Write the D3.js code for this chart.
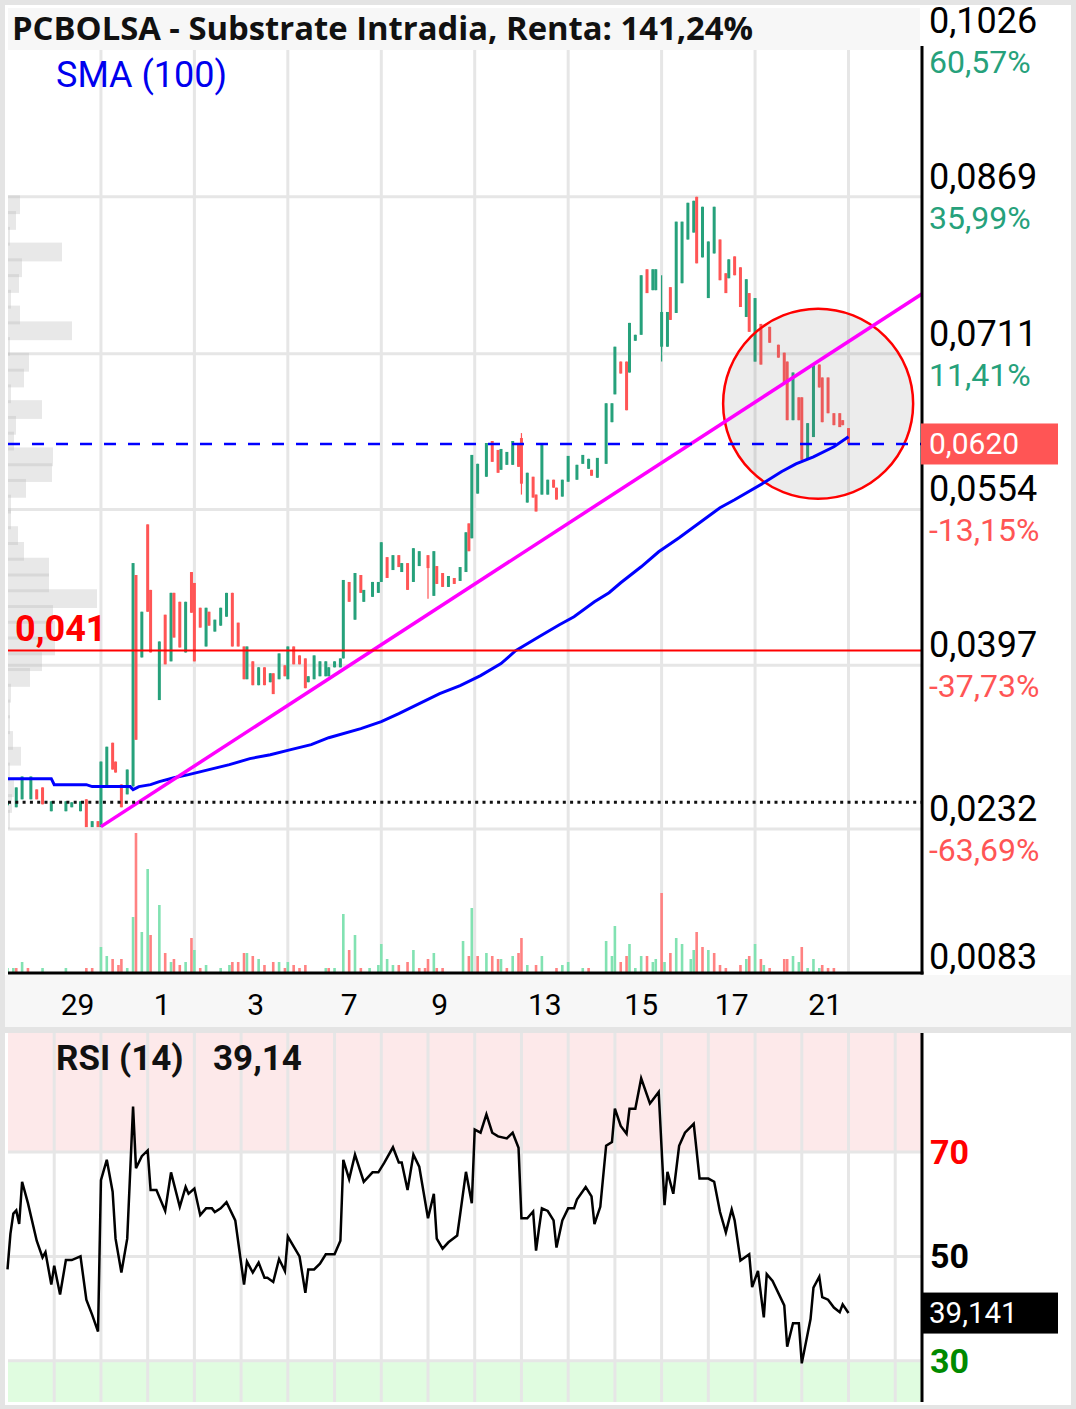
<!DOCTYPE html>
<html>
<head>
<meta charset="utf-8">
<script src="https://cdn.jsdelivr.net/npm/d3@7"></script>
<style>
  body { margin: 0; background: #fff; }
  svg { display: block; font-family: Roboto, 'Noto Sans', sans-serif; }
</style>
</head>
<body>
<script>
var WIDTH = 1076,
    HEIGHT = 1409;

// candles: [slot, open, high, low, close]
var candles = [
  [0, .0256, .0260, .0256, .0260], [3, .0254, .0274, .0254, .0274], [5, .0262, .0285, .0262, .0285],
  [8, .0262, .0285, .0262, .0285], [10, .0272, .0272, .0262, .0262], [12, .0274, .0274, .0257, .0257],
  [15, .0250, .0260, .0250, .0260], [20, .0250, .0260, .0250, .0260], [22, .0254, .0259, .0254, .0259],
  [25, .0250, .0260, .0250, .0260], [27, .0262, .0262, .0234, .0234], [29, .0234, .0240, .0234, .0240],
  [31, .0240, .0240, .0234, .0234], [32, .0234, .0300, .0234, .0300], [34, .0275, .0315, .0275, .0315],
  [36, .0319, .0319, .0292, .0292], [37, .0300, .0300, .0289, .0289], [39, .0277, .0277, .0254, .0254],
  [41, .0267, .0292, .0267, .0292], [43, .0275, .0500, .0275, .0500], [44, .0488, .0488, .0322, .0322],
  [46, .0405, .0451, .0405, .0451], [48, .0539, .0539, .0451, .0451], [49, .0473, .0473, .0410, .0410],
  [52, .0362, .0421, .0362, .0421], [54, .0448, .0448, .0398, .0398], [56, .0401, .0470, .0401, .0470],
  [57, .0470, .0470, .0425, .0425], [59, .0461, .0461, .0415, .0415], [61, .0410, .0461, .0410, .0461],
  [63, .0491, .0491, .0450, .0450], [64, .0480, .0480, .0401, .0401], [66, .0455, .0455, .0435, .0435],
  [68, .0416, .0455, .0416, .0455], [69, .0451, .0451, .0437, .0437], [71, .0431, .0443, .0431, .0443],
  [73, .0437, .0455, .0437, .0455], [75, .0446, .0470, .0446, .0470], [77, .0470, .0470, .0416, .0416],
  [79, .0440, .0440, .0416, .0416], [81, .0416, .0416, .0383, .0383], [82, .0383, .0416, .0383, .0416],
  [84, .0401, .0401, .0377, .0377], [86, .0377, .0395, .0377, .0395], [88, .0395, .0395, .0377, .0377],
  [90, .0380, .0389, .0380, .0389], [91, .0389, .0389, .0368, .0368], [93, .0383, .0409, .0383, .0409],
  [95, .0397, .0397, .0386, .0386], [96, .0383, .0416, .0383, .0416], [98, .0416, .0416, .0398, .0398],
  [100, .0407, .0407, .0398, .0398], [102, .0404, .0404, .0374, .0374], [103, .0380, .0386, .0380, .0386],
  [105, .0383, .0407, .0383, .0407], [107, .0386, .0401, .0386, .0401], [109, .0386, .0401, .0386, .0401],
  [110, .0386, .0395, .0386, .0395], [112, .0395, .0401, .0395, .0401], [114, .0395, .0404, .0395, .0404],
  [115, .0404, .0483, .0404, .0483], [117, .0481, .0481, .0461, .0461], [119, .0443, .0490, .0443, .0490],
  [121, .0488, .0488, .0470, .0470], [122, .0461, .0473, .0461, .0473], [125, .0466, .0481, .0466, .0481],
  [127, .0470, .0481, .0470, .0481], [128, .0481, .0521, .0481, .0521], [130, .0506, .0506, .0485, .0485],
  [132, .0493, .0508, .0493, .0508], [134, .0508, .0508, .0496, .0496], [135, .0491, .0500, .0491, .0500],
  [137, .0500, .0500, .0473, .0473], [139, .0481, .0515, .0481, .0515], [141, .0497, .0512, .0497, .0512],
  [144, .0508, .0508, .0464, .0495], [146, .0467, .0512, .0467, .0512], [147, .0497, .0497, .0479, .0479],
  [149, .0490, .0490, .0476, .0476], [151, .0476, .0487, .0476, .0487], [153, .0485, .0485, .0479, .0479],
  [155, .0482, .0496, .0482, .0496], [157, .0491, .0531, .0491, .0531], [158, .0540, .0540, .0512, .0512],
  [159, .0525, .0609, .0525, .0609], [161, .0570, .0600, .0570, .0600], [164, .0587, .0621, .0587, .0621],
  [166, .0623, .0623, .0602, .0602], [168, .0614, .0614, .0591, .0591], [169, .0594, .0615, .0594, .0615],
  [171, .0599, .0612, .0599, .0612], [173, .0599, .0623, .0599, .0623], [175, .0621, .0621, .0597, .0597],
  [176, .0626, .0631, .0569, .0580], [178, .0561, .0591, .0561, .0591], [180, .0587, .0587, .0566, .0566],
  [181, .0569, .0569, .0552, .0552], [183, .0569, .0621, .0569, .0621], [185, .0569, .0584, .0569, .0584],
  [187, .0584, .0584, .0576, .0576], [188, .0576, .0576, .0564, .0564], [190, .0567, .0584, .0567, .0584],
  [192, .0582, .0608, .0582, .0608], [195, .0584, .0599, .0584, .0599], [197, .0600, .0609, .0600, .0609],
  [199, .0595, .0605, .0595, .0605], [200, .0594, .0594, .0588, .0588], [202, .0586, .0606, .0586, .0606],
  [205, .0600, .0661, .0600, .0661], [207, .0642, .0661, .0642, .0661], [208, .0670, .0718, .0670, .0718],
  [210, .0703, .0703, .0691, .0691], [212, .0703, .0703, .0654, .0654], [213, .0692, .0742, .0692, .0742],
  [215, .0724, .0730, .0724, .0730], [217, .0730, .0790, .0730, .0790], [219, .0796, .0796, .0772, .0772],
  [221, .0775, .0796, .0775, .0796], [222, .0775, .0796, .0775, .0796], [224, .0718, .0790, .0703, .0753],
  [226, .0718, .0753, .0718, .0753], [227, .0778, .0778, .0745, .0745], [229, .0752, .0844, .0752, .0844],
  [231, .0782, .0844, .0782, .0844], [233, .0826, .0863, .0826, .0863], [235, .0833, .0865, .0833, .0865],
  [236, .0869, .0869, .0802, .0802], [238, .0808, .0859, .0808, .0859], [240, .0767, .0824, .0767, .0824],
  [242, .0812, .0859, .0812, .0859], [244, .0826, .0826, .0785, .0785], [246, .0792, .0792, .0772, .0772],
  [247, .0787, .0806, .0787, .0806], [249, .0809, .0809, .0790, .0790], [251, .0798, .0798, .0758, .0758],
  [253, .0748, .0786, .0748, .0786], [254, .0772, .0772, .0733, .0733], [256, .0703, .0767, .0703, .0767],
  [258, .0741, .0741, .0700, .0700], [261, .0738, .0738, .0722, .0722], [264, .0720, .0720, .0707, .0707],
  [266, .0712, .0712, .0682, .0682], [267, .0703, .0703, .0644, .0644], [269, .0644, .0692, .0644, .0692],
  [271, .0667, .0667, .0644, .0644], [272, .0667, .0667, .0604, .0604], [274, .0604, .0641, .0604, .0641],
  [276, .0627, .0700, .0627, .0700], [278, .0700, .0700, .0677, .0677], [279, .0687, .0687, .0642, .0642],
  [281, .0687, .0687, .0651, .0651], [283, .0651, .0651, .0639, .0639], [285, .0651, .0651, .0637, .0637],
  [286, .0644, .0644, .0639, .0639], [288, .0636, .0636, .0620, .0620]
];

// volume: [slot, volume (k), up]
var volumes = [
  [0, 5, 1], [2, 5, 1], [3, 5, 0], [5, 11, 1], [7, 5, 0], [12, 5, 1], [20, 5, 1], [27, 5, 0], [29, 5, 0],
  [32, 26, 1], [34, 17, 1], [36, 14, 0], [38, 8, 0], [39, 14, 0], [41, 5, 1], [43, 56, 1], [44, 140, 0],
  [46, 41, 1], [48, 104, 1], [49, 38, 0], [52, 68, 1], [54, 20, 0], [56, 11, 1], [57, 14, 0], [59, 8, 0],
  [61, 11, 1], [63, 35, 0], [64, 23, 1], [66, 5, 0], [68, 8, 1], [73, 5, 1], [76, 8, 1], [77, 11, 0],
  [79, 11, 0], [81, 20, 0], [82, 20, 1], [84, 17, 0], [86, 14, 1], [88, 8, 0], [91, 11, 0], [93, 11, 1],
  [95, 5, 0], [96, 11, 1], [98, 8, 0], [100, 5, 0], [102, 8, 0], [109, 5, 1], [110, 5, 0], [112, 5, 1],
  [115, 59, 1], [117, 23, 0], [119, 38, 1], [121, 5, 0], [124, 5, 1], [127, 8, 1], [128, 29, 1],
  [130, 14, 1], [132, 8, 1], [134, 8, 0], [137, 11, 0], [139, 23, 1], [141, 5, 0], [143, 5, 0],
  [144, 14, 0], [146, 20, 1], [147, 5, 0], [149, 5, 0], [156, 32, 1], [158, 17, 0], [159, 65, 1],
  [161, 17, 0], [164, 20, 1], [166, 17, 0], [168, 14, 0], [169, 14, 1], [171, 5, 0], [173, 17, 1],
  [175, 20, 0], [176, 35, 0], [178, 8, 1], [181, 8, 0], [183, 17, 1], [188, 5, 0], [190, 8, 1],
  [192, 11, 1], [197, 5, 1], [199, 5, 0], [205, 32, 1], [207, 17, 1], [208, 47, 1], [210, 11, 0],
  [212, 17, 0], [213, 29, 1], [215, 5, 1], [217, 17, 1], [219, 17, 0], [221, 11, 1], [222, 14, 1],
  [224, 80, 0], [225, 11, 1], [227, 20, 0], [229, 35, 1], [231, 29, 1], [234, 14, 1], [235, 23, 1],
  [236, 41, 0], [238, 26, 0], [240, 23, 1], [242, 20, 0], [244, 8, 0], [246, 5, 0], [251, 8, 0],
  [253, 14, 1], [254, 17, 0], [256, 29, 1], [258, 14, 0], [259, 8, 1], [261, 5, 0], [266, 14, 0],
  [267, 14, 0], [269, 17, 1], [271, 11, 1], [272, 26, 0], [274, 5, 1], [276, 14, 1], [278, 5, 1],
  [279, 8, 0], [281, 5, 0], [283, 5, 0]
];

// SMA(100): [slot, price]
var sma = [
  [0, .02828], [15, .02828], [16, .02768], [27, .02768], [29, .02748], [42, .02748], [43, .02718],
  [45, .02748], [49, .02768], [52, .02798], [57, .02838], [62, .02869], [69, .02919], [76, .02970],
  [83, .03030], [90, .03070], [97, .03121], [104, .03171], [110, .03241], [121, .03332], [128, .03402],
  [134, .03483], [141, .03584], [148, .03684], [155, .03765], [162, .03866], [169, .03987], [174, .04117],
  [182, .04258], [189, .04379], [194, .04460], [201, .04611], [206, .04702], [210, .04802], [217, .04963],
  [223, .05114], [230, .05255], [237, .05406], [244, .05558], [249, .05638], [259, .05809], [265, .05920],
  [270, .06000], [276, .06071], [283, .06172], [288, .06272]
];

// RSI(14): [slot, value]
var rsi = [
  [0, 47.5], [1, 54.3], [2, 58.2], [3, 58.8], [4, 56.2], [5, 64.3], [7, 60.2], [10, 53.0], [12, 49.8],
  [13, 50.8], [15, 44.6], [16, 48.2], [18, 42.7], [20, 49.3], [22, 49.3], [25, 50.0], [27, 41.7],
  [29, 38.8], [31, 35.6], [32, 64.6], [34, 68.5], [36, 62.4], [37, 53.4], [39, 46.9], [41, 53.4],
  [43, 78.7], [44, 66.9], [46, 69.2], [48, 70.3], [49, 62.7], [51, 62.7], [54, 58.7], [56, 66.1],
  [59, 59.5], [61, 63.3], [62, 62.0], [64, 63.0], [66, 57.9], [68, 59.2], [70, 59.2], [71, 58.5],
  [73, 59.2], [75, 60.4], [78, 56.9], [81, 44.6], [82, 49.0], [84, 46.9], [86, 48.8], [88, 45.9],
  [89, 45.9], [91, 45.1], [93, 49.5], [95, 47.2], [96, 53.8], [100, 50.0], [102, 43.0], [103, 47.5],
  [105, 47.5], [107, 48.6], [109, 50.4], [112, 50.4], [114, 53.0], [115, 68.5], [117, 64.8],
  [119, 69.5], [122, 64.3], [125, 66.1], [127, 66.1], [129, 67.9], [132, 70.9], [134, 68.0],
  [135, 68.0], [137, 62.7], [139, 69.5], [141, 67.2], [144, 57.3], [146, 62.0], [147, 53.4],
  [149, 51.5], [151, 52.7], [154, 54.0], [155, 58.0], [157, 66.2], [159, 60.2], [160, 74.3],
  [162, 73.7], [164, 77.2], [166, 73.7], [168, 73.0], [171, 72.6], [173, 73.7], [175, 70.8],
  [176, 57.3], [178, 57.3], [180, 58.6], [181, 51.1], [182, 55.3], [183, 59.2], [185, 58.7],
  [187, 56.9], [188, 51.7], [190, 56.9], [192, 59.2], [194, 59.2], [195, 60.9], [198, 63.3],
  [200, 61.5], [201, 56.2], [203, 59.5], [205, 71.2], [207, 71.9], [208, 78.3], [210, 75.0],
  [212, 73.5], [213, 78.3], [215, 78.3], [217, 84.1], [220, 79.3], [221, 80.0], [223, 81.5],
  [225, 59.8], [226, 66.2], [228, 62.0], [230, 71.2], [232, 73.7], [235, 75.4], [237, 64.9],
  [240, 64.9], [242, 64.3], [244, 58.5], [246, 54.6], [248, 59.0], [249, 56.9], [251, 49.2],
  [254, 50.4], [255, 44.1], [257, 47.2], [259, 38.3], [260, 46.6], [262, 45.3], [266, 40.6],
  [267, 32.7], [269, 37.2], [271, 37.2], [272, 29.5], [275, 38.0], [276, 44.0], [278, 46.1],
  [279, 42.2], [281, 41.7], [283, 40.2], [285, 39.3], [286, 40.8], [288, 39.14]
];

// volume profile, bins from top (0.0869) to bottom (0.0234)
var profileTop = 0.0869,
    profileBottom = 0.0234;
var profile = [12, 8, 2, 54, 14, 11, 3, 12, 64, 2, 21, 16, 3, 34, 8, 6, 45, 44, 18, 3,
               3, 10, 16, 41, 41, 89, 45, 47, 47, 34, 22, 3, 2, 2, 5, 13, 2, 6, 4, 2];

var priceTicks = [0.1026, 0.0869, 0.0711, 0.0554, 0.0397, 0.0232, 0.0083];
var pctLabels = ['60,57%', '35,99%', '11,41%', '-13,15%', '-37,73%', '-63,69%', ''];
var dayLabels = ['29', '1', '3', '7', '9', '13', '15', '17', '21'];
var daySlots = [24, 53, 85, 117, 148, 184, 217, 248, 280];
var rsiLevels = [70, 50, 30];

var lastPrice = 0.0620,
    supportLevel = 0.0412,
    refLevel = 0.0259,
    lastRsi = 39.141,
    trendFrom = [32, 0.02345],
    trendTo = [288, 0.07232],
    circleAt = [277.6, 0.06605];

var UP = '#26a17b', DOWN = '#ff5555',
    VUP = '#82e2b2', VDOWN = '#ff8282',
    GRID = '#e6e6e6';

var fmt4 = function(v) { return d3.format('.4f')(v).replace('.', ','); };

var svg = d3.select('body').append('svg')
    .attr('width', WIDTH)
    .attr('height', HEIGHT);

var L = 8, R = 922, TOP = 50, BOT = 973,
    RTOP = 1033, RBOT = 1402;

var x = d3.scaleLinear().domain([0, 288]).range([7.5, 848.5]);
var y = d3.scaleLinear().domain([0.0083, 0.1026]).range([977, 41]);
var yVol = d3.scaleLinear().domain([0, 140]).range([BOT, BOT - 140]);
var yRsi = d3.scaleLinear().domain([22.1, 92.8]).range([RBOT, RTOP]);
var wProf = d3.scaleLinear().domain([0, 100]).range([0, 100]);

// frame
svg.append('rect').attr('width', WIDTH).attr('height', HEIGHT).attr('fill', '#e4e4e4');
svg.append('rect').attr('x', 5).attr('y', 5).attr('width', WIDTH - 10).attr('height', HEIGHT - 9).attr('fill', '#fff');

svg.append('clipPath').attr('id', 'plot')
  .append('rect').attr('x', L).attr('y', TOP).attr('width', R - L).attr('height', BOT - TOP);

var main = svg.append('g').attr('clip-path', 'url(#plot)');

// grid
main.selectAll('.hg').data(priceTicks.slice(1, 6)).enter().append('line')
    .attr('x1', L).attr('x2', R)
    .attr('y1', d => y(d)).attr('y2', d => y(d))
    .attr('stroke', GRID).attr('stroke-width', 3);

main.selectAll('.vg').data(d3.range(32, 289, 32)).enter().append('line')
    .attr('x1', d => x(d)).attr('x2', d => x(d))
    .attr('y1', TOP).attr('y2', BOT)
    .attr('stroke', GRID).attr('stroke-width', 3);

// volume profile
var binH = (profileTop - profileBottom) / profile.length;
main.selectAll('.prof').data(profile).enter().append('rect')
    .attr('x', L)
    .attr('y', (d, i) => y(profileTop - i * binH) - 1.5)
    .attr('width', d => wProf(d))
    .attr('height', (d, i) => y(profileTop - (i + 1) * binH) - y(profileTop - i * binH) + 3)
    .attr('fill', 'rgba(185,185,185,0.32)');

// volume bars
main.selectAll('.vol').data(volumes).enter().append('rect')
    .attr('x', d => x(d[0]) - 1.3)
    .attr('width', 2.6)
    .attr('y', d => yVol(d[1]))
    .attr('height', d => BOT - yVol(d[1]))
    .attr('fill', d => d[2] ? VUP : VDOWN);

// candles
var cg = main.selectAll('.candle').data(candles).enter().append('g');
cg.append('line')
    .attr('x1', d => x(d[0])).attr('x2', d => x(d[0]))
    .attr('y1', d => y(d[2])).attr('y2', d => y(d[3]))
    .attr('stroke', d => d[4] >= d[1] ? UP : DOWN)
    .attr('stroke-width', 1.2);
cg.append('rect')
    .attr('x', d => x(d[0]) - 1.5)
    .attr('width', 3)
    .attr('y', d => y(Math.max(d[1], d[4])))
    .attr('height', d => Math.max(1.5, Math.abs(y(d[1]) - y(d[4]))))
    .attr('fill', d => d[4] >= d[1] ? UP : DOWN);

// highlight circle
main.append('circle')
    .attr('cx', x(circleAt[0])).attr('cy', y(circleAt[1])).attr('r', 95)
    .attr('fill', 'rgba(120,120,120,0.14)')
    .attr('stroke', '#ff0000').attr('stroke-width', 2.5);

// SMA
main.append('path')
    .datum(sma)
    .attr('d', d3.line().x(d => x(d[0])).y(d => y(d[1])))
    .attr('fill', 'none').attr('stroke', '#0000ff').attr('stroke-width', 3);

// trend line, extended to the right edge
var slope = (trendTo[1] - trendFrom[1]) / (trendTo[0] - trendFrom[0]);
var endSlot = x.invert(R + 2);
main.append('line')
    .attr('x1', x(trendFrom[0])).attr('y1', y(trendFrom[1]))
    .attr('x2', x(endSlot)).attr('y2', y(trendFrom[1] + slope * (endSlot - trendFrom[0])))
    .attr('stroke', '#ff00ff').attr('stroke-width', 3.5);

// horizontal levels
main.append('line')
    .attr('x1', L).attr('x2', R).attr('y1', y(supportLevel)).attr('y2', y(supportLevel))
    .attr('stroke', '#ff0000').attr('stroke-width', 2);
main.append('line')
    .attr('x1', L).attr('x2', R).attr('y1', y(refLevel)).attr('y2', y(refLevel))
    .attr('stroke', '#111').attr('stroke-width', 3).attr('stroke-dasharray', '3,4.3');
main.append('line')
    .attr('x1', L).attr('x2', R).attr('y1', y(lastPrice)).attr('y2', y(lastPrice))
    .attr('stroke', '#0000ff').attr('stroke-width', 2.5).attr('stroke-dasharray', '12,12');

main.append('text')
    .attr('x', 15).attr('y', y(supportLevel) - 9)
    .attr('font-size', 36).attr('font-weight', 'bold').attr('fill', '#ff0000')
    .text(d3.format('.3f')(supportLevel).replace('.', ','));

// title bar
svg.append('rect').attr('x', L).attr('y', 8).attr('width', R - L - 2).attr('height', 42).attr('fill', '#f7f7f7');
svg.append('text')
    .attr('x', 12).attr('y', 40)
    .attr('font-family', "'Open Sans', 'Noto Sans', sans-serif")
    .attr('font-size', 32.8).attr('font-weight', 'bold').attr('fill', '#111')
    .text('PCBOLSA - Substrate Intradia, Renta: 141,24%');
svg.append('text')
    .attr('x', 56).attr('y', 87)
    .attr('font-size', 36).attr('fill', '#0000ee')
    .text('SMA (100)');

// axes frame
svg.append('line').attr('x1', R).attr('x2', R).attr('y1', 46).attr('y2', BOT + 1.5)
    .attr('stroke', '#000').attr('stroke-width', 3);
svg.append('line').attr('x1', L).attr('x2', R + 1.5).attr('y1', BOT).attr('y2', BOT)
    .attr('stroke', '#000').attr('stroke-width', 3);

// price axis labels
var ticks = svg.selectAll('.tick').data(priceTicks).enter().append('g');
ticks.append('text')
    .attr('x', 929).attr('y', d => y(d) - 8)
    .attr('font-size', 36).attr('fill', '#000')
    .text(fmt4);
ticks.append('text')
    .attr('x', 929).attr('y', d => y(d) + 32)
    .attr('font-size', 32).attr('fill', (d, i) => pctLabels[i].charAt(0) === '-' ? '#ff5555' : '#26a17b')
    .text((d, i) => pctLabels[i]);

// last price tag
svg.append('rect').attr('x', 921).attr('y', y(lastPrice) - 20.5).attr('width', 137).attr('height', 41)
    .attr('fill', '#ff5555');
svg.append('text')
    .attr('x', 929).attr('y', y(lastPrice)).attr('dy', '0.35em')
    .attr('font-size', 30).attr('fill', '#fff')
    .text(fmt4(lastPrice));

// time axis band
svg.append('rect').attr('x', 5).attr('y', BOT + 2).attr('width', WIDTH - 10).attr('height', 52).attr('fill', '#f7f7f7');
svg.append('rect').attr('x', 5).attr('y', 1027).attr('width', WIDTH - 10).attr('height', 6).attr('fill', '#e4e4e4');
svg.selectAll('.day').data(dayLabels).enter().append('text')
    .attr('x', (d, i) => x(daySlots[i])).attr('y', 1004).attr('dy', '0.35em')
    .attr('text-anchor', 'middle')
    .attr('font-size', 30).attr('fill', '#000')
    .text(d => d);

// RSI panel
var rp = svg.append('g');
rp.append('rect').attr('x', L).attr('y', RTOP).attr('width', R - L).attr('height', yRsi(70) - RTOP).attr('fill', '#fde9ea');
rp.append('rect').attr('x', L).attr('y', yRsi(30)).attr('width', R - L).attr('height', RBOT - yRsi(30)).attr('fill', '#e0fce0');

rp.selectAll('.rv').data(d3.range(16, 305, 16)).enter().append('line')
    .attr('x1', d => x(d)).attr('x2', d => x(d))
    .attr('y1', RTOP).attr('y2', RBOT)
    .attr('stroke', GRID).attr('stroke-width', 3);
rp.selectAll('.rh').data(rsiLevels).enter().append('line')
    .attr('x1', L).attr('x2', R)
    .attr('y1', d => yRsi(d)).attr('y2', d => yRsi(d))
    .attr('stroke', GRID).attr('stroke-width', 3);

rp.append('path')
    .datum(rsi)
    .attr('d', d3.line().x(d => x(d[0])).y(d => yRsi(d[1])))
    .attr('fill', 'none').attr('stroke', '#000').attr('stroke-width', 2.5)
    .attr('stroke-linejoin', 'miter');

rp.append('line').attr('x1', R).attr('x2', R).attr('y1', RTOP).attr('y2', RBOT)
    .attr('stroke', '#000').attr('stroke-width', 3);

rp.selectAll('.rl').data(rsiLevels).enter().append('text')
    .attr('x', 930).attr('y', d => yRsi(d)).attr('dy', '0.35em')
    .attr('font-size', 34).attr('font-weight', 'bold')
    .attr('fill', d => d === 70 ? '#ff0000' : d === 30 ? '#008a00' : '#000')
    .text(d => d);

rp.append('rect').attr('x', 921).attr('y', yRsi(lastRsi) - 20.5).attr('width', 137).attr('height', 41).attr('fill', '#000');
rp.append('text')
    .attr('x', 929).attr('y', yRsi(lastRsi)).attr('dy', '0.35em')
    .attr('font-size', 29.5).attr('fill', '#fff')
    .text(d3.format('.3f')(lastRsi).replace('.', ','));

rp.append('text').attr('x', 56).attr('y', 1070)
    .attr('font-size', 35).attr('font-weight', 'bold').attr('fill', '#111')
    .text('RSI (14)');
rp.append('text').attr('x', 213).attr('y', 1070)
    .attr('font-size', 35).attr('font-weight', 'bold').attr('fill', '#111')
    .text(d3.format('.2f')(lastRsi).replace('.', ','));
</script>
</body>
</html>
